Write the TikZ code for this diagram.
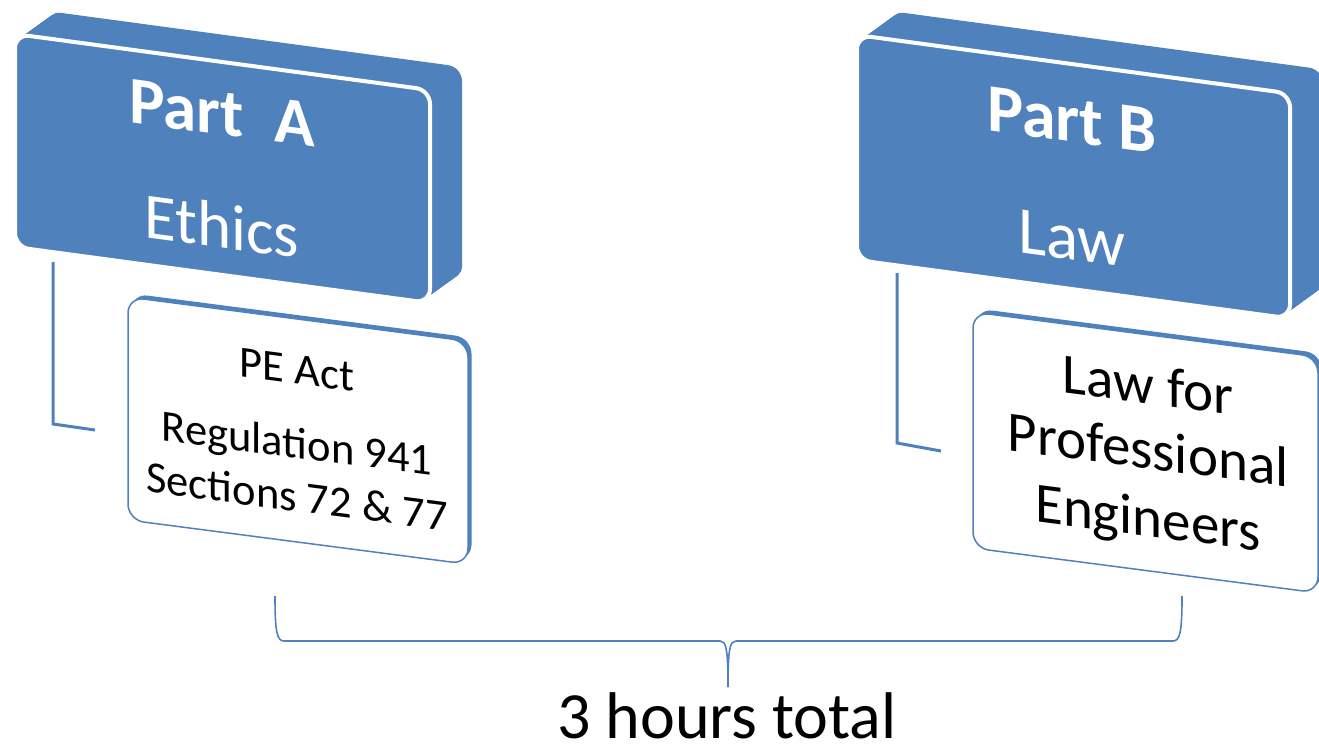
\documentclass[tikz,border=0pt]{standalone}
\usepackage{fontspec}
\setmainfont{Carlito}
\definecolor{hdrblue}{HTML}{4F81BD}
\tikzset{
  hdrback/.style={fill=hdrblue, rounded corners=14pt},
  hdrface/.style={fill=hdrblue, draw=white, line width=4pt, rounded corners=14pt},
  kidback/.style={fill=hdrblue, rounded corners=16pt},
  kidface/.style={fill=white, draw=hdrblue, line width=1.5pt, rounded corners=16pt},
  hdrtext/.style={text=white, inner sep=0pt, anchor=base, transform shape},
  kidtext/.style={text=black, inner sep=0pt, anchor=base, transform shape},
  conn/.style={draw=hdrblue, line width=3pt},
  bracestyle/.style={draw=hdrblue, line width=1.6pt},
}
\begin{document}
\begin{tikzpicture}[x=1pt,y=-1pt]
\fill[white] (0,0) rectangle (1319,745);
\useasboundingbox (0,0) rectangle (1319,745);

% ---------- Part A header ----------
\foreach \i in {1,...,24} {
  \path[hdrback] (15+32*\i/24,34-23*\i/24) -- ++(415,56) -- ++(0,213) -- ++(-415,-56) -- cycle;
}
\path[hdrface] (15,34) -- ++(415,56) -- ++(0,213) -- ++(-415,-56) -- cycle;
\begin{scope}[shift={(15,34)}, cm={1,-0.135,0,1,(0,0)}]
  \node[hdrtext, font=\fontsize{67}{67}\selectfont\bfseries] (pa) at (207,73) {Part~~A};
  \node[hdrtext, font=\fontsize{65}{65}\selectfont] (pae) at (207,186) {Ethics};
\end{scope}

% ---------- Part B header ----------
\foreach \i in {1,...,24} {
  \path[hdrback] (857+33*\i/24,35-24*\i/24) -- ++(433,58.5) -- ++(0,225) -- ++(-433,-58.5) -- cycle;
}
\path[hdrface] (857,35) -- ++(433,58.5) -- ++(0,225) -- ++(-433,-58.5) -- cycle;
\begin{scope}[shift={(857,35)}, cm={1,-0.135,0,1,(0,0)}]
  \node[hdrtext, font=\fontsize{68}{68}\selectfont\bfseries] (pb) at (215,78) {Part B};
  \node[hdrtext, font=\fontsize{67}{67}\selectfont] (pbl) at (215,196) {Law};
\end{scope}

% ---------- Child A ----------
\path[kidback] (131.5,293.5) -- ++(340,44.2) -- ++(0,223) -- ++(-340,-44.2) -- cycle;
\path[kidface] (128,297) -- ++(340,44.2) -- ++(0,223) -- ++(-340,-44.2) -- cycle;
\begin{scope}[shift={(128,297)}, cm={1,-0.13,0,1,(0,0)}]
  \node[kidtext, font=\fontsize{44.5}{44.5}\selectfont] (ka1) at (169,65) {PE Act};
  \node[kidtext, font=\fontsize{44.5}{44.5}\selectfont] (ka2) at (169,139) {Regulation 941};
  \node[kidtext, font=\fontsize{44.5}{44.5}\selectfont] (ka3) at (169,192.5) {Sections 72 \& 77};
\end{scope}

% ---------- Child B ----------
\path[kidback] (976.5,308.5) -- ++(345,44.9) -- ++(0,236) -- ++(-345,-44.9) -- cycle;
\path[kidface] (973,312) -- ++(345,44.9) -- ++(0,236) -- ++(-345,-44.9) -- cycle;
\begin{scope}[shift={(973,312)}, cm={1,-0.13,0,1,(0,0)}]
  \node[kidtext, font=\fontsize{57}{57}\selectfont] (kb1) at (175,69) {Law for};
  \node[kidtext, font=\fontsize{57}{57}\selectfont] (kb2) at (175,134) {Professional};
  \node[kidtext, font=\fontsize{57}{57}\selectfont] (kb3) at (175,201.5) {Engineers};
\end{scope}

% ---------- connectors ----------
\coordinate (ca1) at (53,262);
\coordinate (ca2) at (53,424);
\coordinate (ca3) at (95,430);
\draw[conn] (ca1) -- (ca2) -- (ca3);
\coordinate (cb1) at (897,273);
\coordinate (cb2) at (897,443);
\coordinate (cb3) at (941,451);
\draw[conn] (cb1) -- (cb2) -- (cb3);

% ---------- brace ----------
\coordinate (bl) at (275,596);
\coordinate (br) at (1182,596);
\coordinate (bt) at (728,687);
\draw[bracestyle] (bl) .. controls (275,632) and (277,641) .. (284,641) -- (720,641)
   .. controls (726,641) and (728,648) .. (bt);
\draw[bracestyle] (bt) .. controls (728,648) and (730,641) .. (736,641) -- (1173,641)
   .. controls (1180,641) and (1182,632) .. (br);
\node[font=\fontsize{66}{66}\selectfont, anchor=base, inner sep=0pt] (tot) at (727,738) {3 hours total};
\end{tikzpicture}
\end{document}
